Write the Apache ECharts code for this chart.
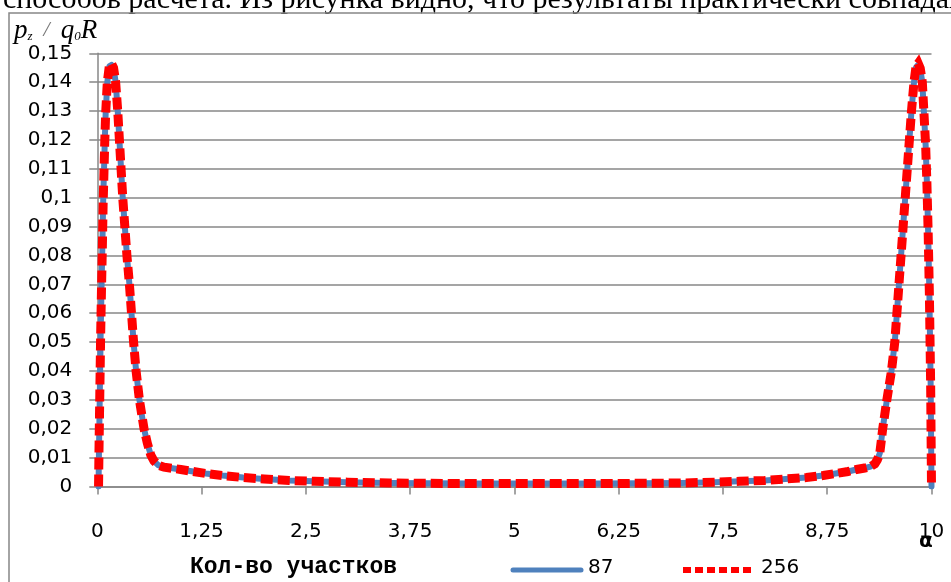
<!DOCTYPE html>
<html><head><meta charset="utf-8">
<script src="https://cdn.jsdelivr.net/npm/echarts@6/dist/echarts.min.js"></script>
<style>html,body{margin:0;padding:0;background:#fff}#c{width:951px;height:582px}</style>
</head><body><div id="c"></div>
<script>
const seriesNames = ['87', '256'];
const xTickLabels = ['0', '1,25', '2,5', '3,75', '5', '6,25', '7,5', '8,75', '10'];
const yTickLabels = ['0', '0,01', '0,02', '0,03', '0,04', '0,05', '0,06', '0,07', '0,08', '0,09', '0,1', '0,11', '0,12', '0,13', '0,14', '0,15'];

const x87 = [0.015, 0.02, 0.03, 0.04, 0.05, 0.06, 0.07, 0.08, 0.09, 0.10, 0.12, 0.145, 0.17, 0.195, 0.22, 0.245, 0.265, 0.285, 0.305, 0.33, 0.355, 0.385, 0.41, 0.435, 0.465, 0.505, 0.56, 0.60, 0.64, 0.68, 0.73, 0.80, 0.90, 1.0, 1.15, 1.3, 1.5, 1.75, 2.0, 2.3, 2.6, 3.0, 3.5, 4.0, 4.5, 5.0, 5.5, 6.0, 6.5, 7.0, 7.4, 7.7, 8.0, 8.25, 8.5, 8.7, 8.85, 9.0, 9.1, 9.2, 9.27, 9.32, 9.35, 9.38, 9.415, 9.465, 9.52, 9.56, 9.585, 9.61, 9.635, 9.66, 9.685, 9.71, 9.735, 9.76, 9.79, 9.815, 9.84, 9.865, 9.89, 9.91, 9.93, 9.945, 9.96, 9.975, 9.99, 10.0];
const y87 = [0, 0.012, 0.032, 0.052, 0.068, 0.082, 0.098, 0.109, 0.120, 0.129, 0.140, 0.1455, 0.146, 0.1448, 0.140, 0.130, 0.120, 0.110, 0.100, 0.090, 0.080, 0.070, 0.060, 0.050, 0.040, 0.030, 0.020, 0.015, 0.011, 0.0088, 0.0074, 0.0067, 0.0063, 0.0059, 0.0052, 0.0045, 0.0038, 0.0031, 0.0026, 0.0021, 0.0018, 0.0015, 0.0012, 0.0011, 0.0010, 0.0010, 0.0010, 0.0010, 0.0011, 0.0012, 0.0015, 0.0018, 0.0021, 0.0026, 0.0031, 0.0038, 0.0045, 0.0052, 0.0059, 0.0064, 0.0069, 0.0078, 0.0092, 0.0115, 0.020, 0.030, 0.040, 0.050, 0.060, 0.070, 0.080, 0.090, 0.100, 0.110, 0.120, 0.130, 0.140, 0.1452, 0.146, 0.1445, 0.140, 0.129, 0.118, 0.105, 0.088, 0.066, 0.035, 0];

const x256 = [0.015, 0.02, 0.03, 0.04, 0.05, 0.06, 0.07, 0.08, 0.09, 0.10, 0.12, 0.145, 0.17, 0.195, 0.22, 0.245, 0.265, 0.285, 0.305, 0.33, 0.355, 0.385, 0.41, 0.435, 0.465, 0.505, 0.56, 0.60, 0.64, 0.68, 0.73, 0.80, 0.90, 1.0, 1.15, 1.3, 1.5, 1.75, 2.0, 2.3, 2.6, 3.0, 3.5, 4.0, 4.5, 5.0, 5.5, 6.0, 6.5, 7.0, 7.4, 7.7, 8.0, 8.25, 8.5, 8.7, 8.85, 9.0, 9.1, 9.2, 9.27, 9.32, 9.35, 9.38, 9.415, 9.465, 9.52, 9.56, 9.585, 9.61, 9.635, 9.66, 9.685, 9.71, 9.735, 9.76, 9.79, 9.815, 9.84, 9.865, 9.89, 9.91, 9.93, 9.945, 9.96, 9.975, 9.99, 10.0];
const y256 = [0, 0.012, 0.032, 0.052, 0.068, 0.082, 0.098, 0.109, 0.120, 0.129, 0.140, 0.1458, 0.1465, 0.1450, 0.140, 0.130, 0.120, 0.110, 0.100, 0.090, 0.080, 0.070, 0.060, 0.050, 0.040, 0.030, 0.020, 0.015, 0.011, 0.0088, 0.0074, 0.0067, 0.0063, 0.0059, 0.0052, 0.0045, 0.0038, 0.0031, 0.0026, 0.0021, 0.0018, 0.0015, 0.0012, 0.0011, 0.0010, 0.0010, 0.0010, 0.0010, 0.0011, 0.0012, 0.0015, 0.0018, 0.0021, 0.0026, 0.0031, 0.0038, 0.0045, 0.0052, 0.0059, 0.0064, 0.0069, 0.0078, 0.0092, 0.0115, 0.020, 0.030, 0.040, 0.050, 0.060, 0.070, 0.080, 0.090, 0.100, 0.110, 0.120, 0.130, 0.140, 0.1455, 0.1465, 0.1448, 0.140, 0.129, 0.118, 0.105, 0.088, 0.066, 0.035, 0];

const pair = (xs, ys) => xs.map((x, i) => [x, ys[i]]);
const AX = '#878787';
const BLUE = '#4F81BD', RED = '#FF0000';
const numFont = 'DejaVu Sans';

const chart = echarts.init(document.getElementById('c'), null, {renderer: 'canvas'});
chart.setOption({
  animation: false,
  backgroundColor: '#fff',
  grid: {left: 97.3, right: 19.5, top: 53.3, bottom: 95.5, containLabel: false},
  xAxis: {
    type: 'value', min: 0, max: 10, interval: 1.25,
    axisLine: {show: true, lineStyle: {color: AX, width: 1.5}},
    axisTick: {show: true, length: 8, lineStyle: {color: AX, width: 1.5}},
    splitLine: {show: false},
    axisLabel: {margin: 35, color: '#000', fontFamily: numFont, fontSize: 20,
      formatter: (v) => xTickLabels[Math.round(v / 1.25)]}
  },
  yAxis: {
    type: 'value', min: 0, max: 0.15, interval: 0.01,
    axisLine: {show: true, lineStyle: {color: AX, width: 1.5}},
    axisTick: {show: true, length: 8, lineStyle: {color: AX, width: 1.5}},
    splitLine: {show: true, lineStyle: {color: AX, width: 1.5}},
    axisLabel: {margin: 25, color: '#000', fontFamily: numFont, fontSize: 20,
      formatter: (v) => yTickLabels[Math.round(v * 100)]}
  },
  legend: {show: false},
  series: [
    {name: seriesNames[0], type: 'line', data: pair(x87, y87), symbol: 'none', smooth: false,
     lineStyle: {color: BLUE, width: 6, cap: 'round', join: 'round'}, itemStyle: {color: BLUE}, z: 2},
    {name: seriesNames[1], type: 'line', data: pair(x256, y256), symbol: 'none', smooth: false,
     lineStyle: {color: RED, width: 9, type: [12, 5], cap: 'butt', join: 'miter'}, itemStyle: {color: RED}, z: 3}
  ],
  graphic: [
    {type: 'text', left: 3, top: -15, style: {text: 'способов расчета. Из рисунка видно, что результаты практически совпадают',
      font: '30px "Liberation Serif"', fill: '#000'}},
    {type: 'rect', shape: {x: 9, y: 13, width: 1200, height: 900}, style: {fill: 'none', stroke: AX, lineWidth: 1.5}, silent: true},
    {type: 'text', left: 14, top: 17, style: {
      rich: {
        i: {fontFamily: 'Liberation Serif', fontStyle: 'italic', fontSize: 27, fill: '#000'},
        s: {fontFamily: 'Liberation Serif', fontStyle: 'italic', fontSize: 13, fill: '#000', padding: [12, 0, 0, 0]},
        sl: {fontFamily: 'Liberation Serif', fontStyle: 'italic', fontSize: 22, fill: '#777'}
      },
      text: '{i|p}{s|z}{sl|  /  }{i|q}{s|0}{i|R}'
    }},
    {type: 'text', left: 190, top: 556, style: {text: 'Кол-во участков', font: 'bold 23px "Liberation Mono"', fill: '#000'}},
    {type: 'text', left: 919, top: 532, style: {text: 'α', font: 'bold 20px "DejaVu Sans"', fill: '#000'}},
    {type: 'line', shape: {x1: 513, y1: 570, x2: 581, y2: 570}, style: {stroke: BLUE, lineWidth: 5, lineCap: 'round'}},
    {type: 'text', left: 588, top: 558, style: {text: seriesNames[0], font: '20px "DejaVu Sans"', fill: '#000'}},
    {type: 'line', shape: {x1: 683, y1: 570, x2: 754, y2: 570}, style: {stroke: RED, lineWidth: 6, lineDash: [8, 4], lineCap: 'butt'}},
    {type: 'text', left: 761, top: 558, style: {text: seriesNames[1], font: '20px "DejaVu Sans"', fill: '#000'}}
  ]
});
</script></body></html>
